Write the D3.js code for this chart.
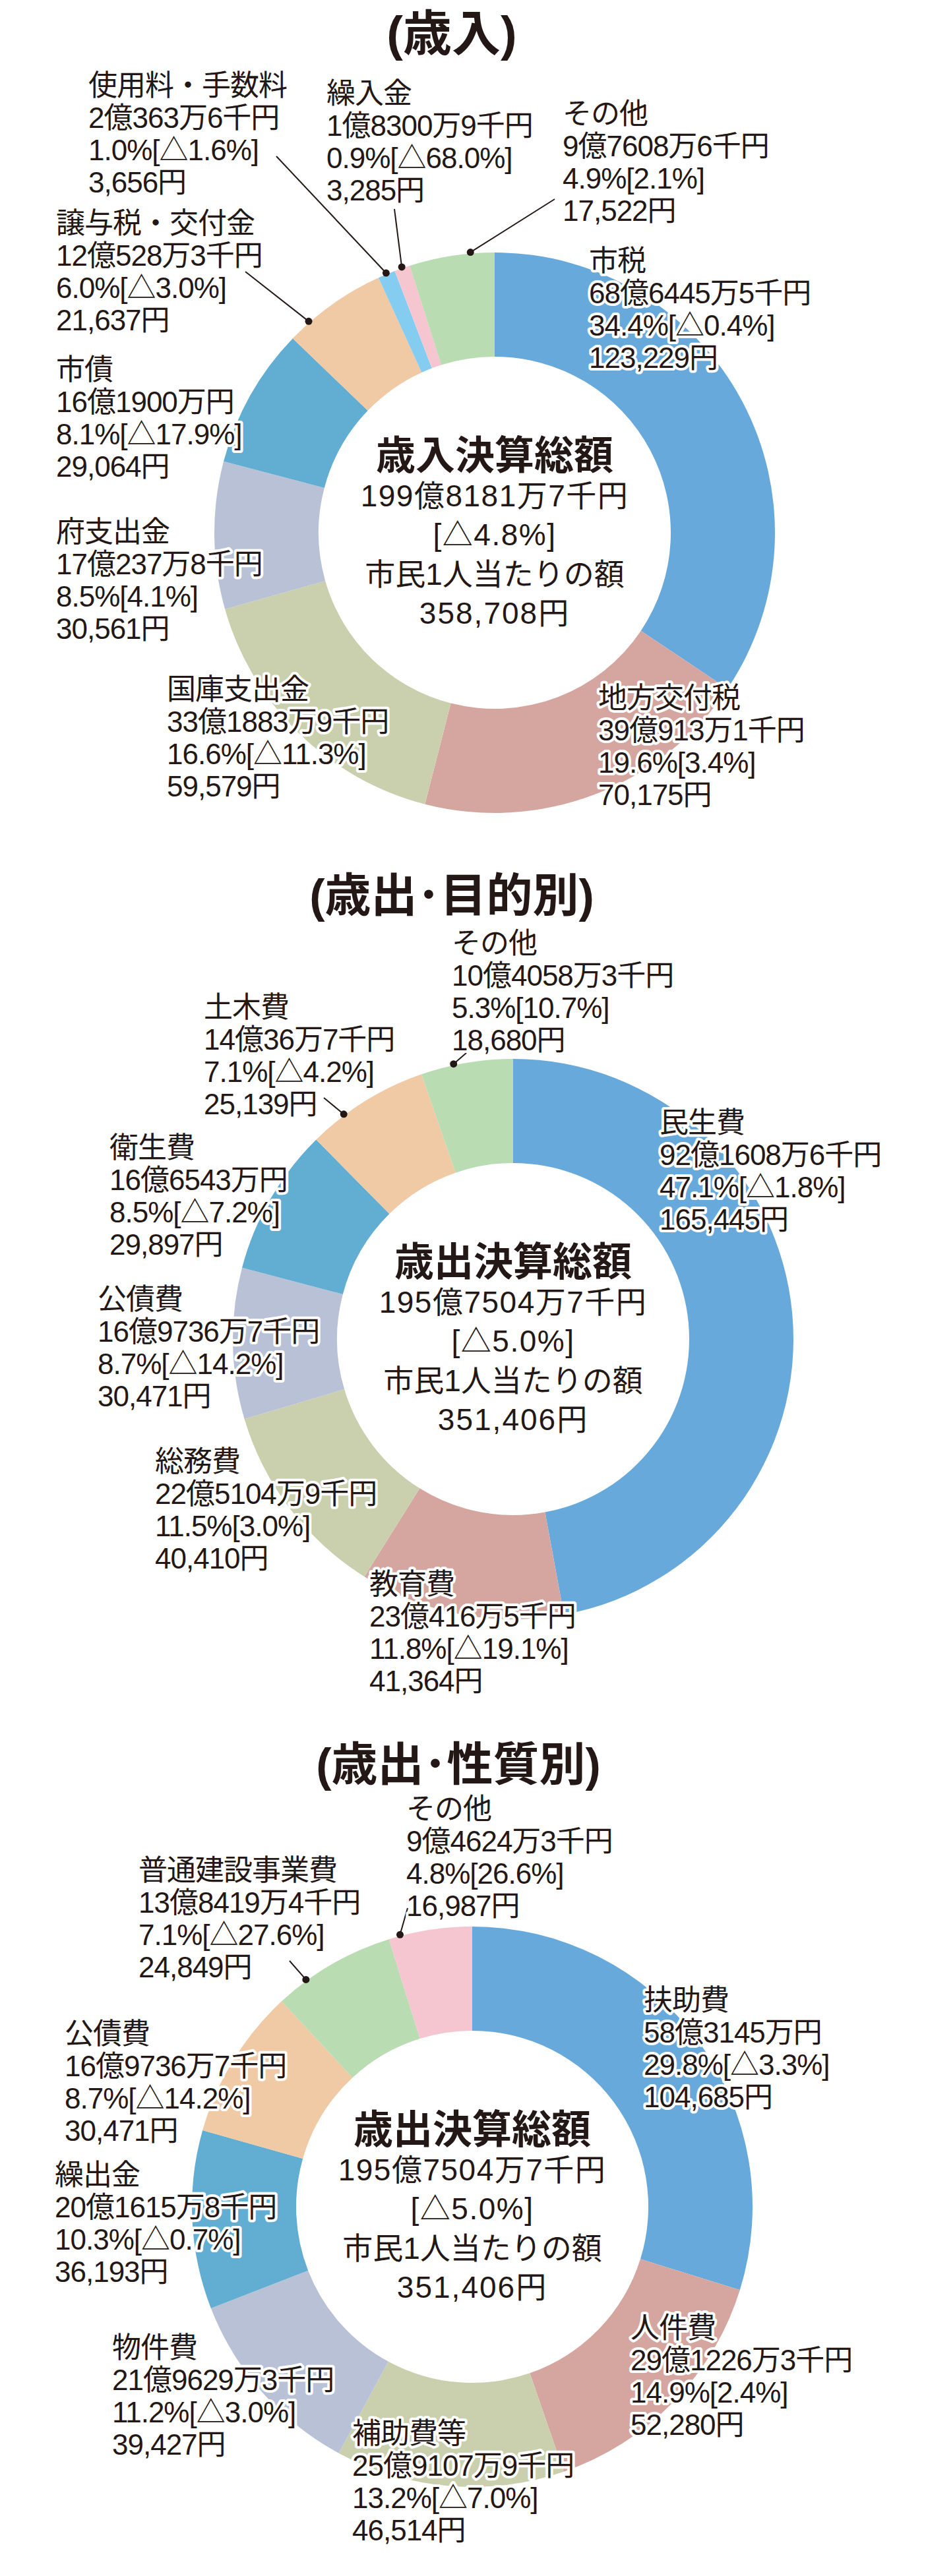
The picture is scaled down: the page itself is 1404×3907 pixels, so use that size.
<!DOCTYPE html>
<html><head><meta charset="utf-8">
<script src="https://cdn.jsdelivr.net/npm/d3@7"></script>
<style>
html,body{margin:0;padding:0;background:#fff;}
svg{display:block;}
text{font-family:"Liberation Sans","Noto Sans CJK JP",sans-serif;fill:#231815;}
</style></head><body>
<svg id="c" width="1404" height="3907"></svg>
<script>
// ---------- data ----------
const revNames = ["市税","地方交付税","国庫支出金","府支出金","市債","譲与税・交付金","使用料・手数料","繰入金","その他"];
const revShares = [34.4,19.6,16.6,8.5,8.1,6.0,1.0,0.9,4.9];
const revAmounts = ["68億6445万5千円","39億913万1千円","33億1883万9千円","17億237万8千円","16億1900万円","12億528万3千円","2億363万6千円","1億8300万9千円","9億7608万6千円"];
const revChanges = ["△0.4%","3.4%","△11.3%","4.1%","△17.9%","△3.0%","△1.6%","△68.0%","2.1%"];
const revPerCapita = ["123,229円","70,175円","59,579円","30,561円","29,064円","21,637円","3,656円","3,285円","17,522円"];
const revTotal = ["歳入決算総額","199億8181万7千円","△4.8%","358,708円"];

const purNames = ["民生費","教育費","総務費","公債費","衛生費","土木費","その他"];
const purShares = [47.1,11.8,11.5,8.7,8.5,7.1,5.3];
const purAmounts = ["92億1608万6千円","23億416万5千円","22億5104万9千円","16億9736万7千円","16億6543万円","14億36万7千円","10億4058万3千円"];
const purChanges = ["△1.8%","△19.1%","3.0%","△14.2%","△7.2%","△4.2%","10.7%"];
const purPerCapita = ["165,445円","41,364円","40,410円","30,471円","29,897円","25,139円","18,680円"];
const purTotal = ["歳出決算総額","195億7504万7千円","△5.0%","351,406円"];

const natNames = ["扶助費","人件費","補助費等","物件費","繰出金","公債費","普通建設事業費","その他"];
const natShares = [29.8,14.9,13.2,11.2,10.3,8.7,7.1,4.8];
const natAmounts = ["58億3145万円","29億1226万3千円","25億9107万9千円","21億9629万3千円","20億1615万8千円","16億9736万7千円","13億8419万4千円","9億4624万3千円"];
const natChanges = ["△3.3%","2.4%","△7.0%","△3.0%","△0.7%","△14.2%","△27.6%","26.6%"];
const natPerCapita = ["104,685円","52,280円","46,514円","39,427円","36,193円","30,471円","24,849円","16,987円"];
const natTotal = ["歳出決算総額","195億7504万7千円","△5.0%","351,406円"];

const chartTitles = ["(歳入)","(歳出･目的別)","(歳出･性質別)"];
const perCapitaCaption = "市民1人当たりの額";

// ---------- styles / layout ----------
const C = {blue:"#68a9dc", rose:"#d5a6a0", olive:"#cacfae", lav:"#b9c1d6", teal:"#62aed3",
           peach:"#efcaa4", lblue:"#84cdf1", pink:"#f5c6d0", green:"#b9dcb2"};
const revColors = [C.blue,C.rose,C.olive,C.lav,C.teal,C.peach,C.lblue,C.pink,C.green];
const purColors = [C.blue,C.rose,C.olive,C.lav,C.teal,C.peach,C.green];
const natColors = [C.blue,C.rose,C.olive,C.lav,C.teal,C.peach,C.green,C.pink];

const R_OUT = 425, R_IN = 267, LINE = 49;

const revLabelPos = [[893,411],[907,1074],[253,1061],[85,822],[85,576],[85,354],[134,145],[495,157],[853,188]];
const purLabelPos = [[1000,1718],[560,2418],[235,2232],[148,1986],[166,1756],[309,1543],[685,1446]];
const natLabelPos = [[976,3049],[956,3546],[534,3706],[170,3576],[83,3314],[98,3100],[210,2852],[616,2759]];

// leader: [slice index, start x, start y, fraction within slice]
const revLeaders = [[5,372,412,0.22],[6,419,237,0.5],[7,598,317,0.5],[8,841,302,0.72]];
const purLeaders = [[5,491,1665,0.3],[6,707,1597,0.36]];
const natLeaders = [[6,439,2974,0.26],[7,618,2894,0.14]];

const charts = [
  {title:chartTitles[0], titleX:685, titleY:77, titleSize:74, center:[750,808], names:revNames, shares:revShares, amounts:revAmounts,
   changes:revChanges, perCap:revPerCapita, total:revTotal, colors:revColors, pos:revLabelPos, leaders:revLeaders},
  {title:chartTitles[1], titleX:685, titleY:1383, titleSize:70, center:[778,2031], names:purNames, shares:purShares, amounts:purAmounts,
   changes:purChanges, perCap:purPerCapita, total:purTotal, colors:purColors, pos:purLabelPos, leaders:purLeaders},
  {title:chartTitles[2], titleX:695, titleY:2701, titleSize:70, center:[716,3347], names:natNames, shares:natShares, amounts:natAmounts,
   changes:natChanges, perCap:natPerCapita, total:natTotal, colors:natColors, pos:natLabelPos, leaders:natLeaders}
];

const svg = d3.select("#c");
svg.append("rect").attr("width",1404).attr("height",3907).attr("fill","#fff");

const pie = d3.pie().sort(null).value(d=>d);
const arc = d3.arc().innerRadius(R_IN).outerRadius(R_OUT);

charts.forEach(ch => {
  // title
  svg.append("text").attr("x",ch.titleX).attr("y",ch.titleY).attr("text-anchor","middle")
    .attr("font-size",ch.titleSize).attr("font-weight",700).attr("font-family","Noto Sans CJK JP")
    .text(ch.title);

  const arcs = pie(ch.shares);
  const g = svg.append("g").attr("transform",`translate(${ch.center[0]},${ch.center[1]})`);
  g.selectAll("path").data(arcs).enter().append("path")
    .attr("d",arc).attr("fill",(d,i)=>ch.colors[i]);

  // center text
  const ct = g.append("g");
  ct.append("text").attr("y",-96).attr("text-anchor","middle").attr("font-size",60)
    .attr("font-weight",700).attr("font-family","Noto Sans CJK JP").text(ch.total[0]);
  const cl = [[ch.total[1],-40,1.5],["["+ch.total[2]+"]",19,1.5],[perCapitaCaption,79,0],[ch.total[3],138,2]];
  cl.forEach(([t,y,ls]) => {
    ct.append("text").attr("y",y).attr("text-anchor","middle").attr("font-size",46)
      .attr("letter-spacing",ls).text(t);
  });

  // leaders
  ch.leaders.forEach(([idx,sx,sy,frac]) => {
    const a = arcs[idx];
    const ang = a.startAngle + (a.endAngle - a.startAngle)*frac;
    const r = R_OUT + 2;
    const dx = ch.center[0] + r*Math.sin(ang), dy = ch.center[1] - r*Math.cos(ang);
    svg.append("line").attr("x1",sx).attr("y1",sy).attr("x2",dx).attr("y2",dy)
      .attr("stroke","#231815").attr("stroke-width",2);
    svg.append("circle").attr("cx",dx).attr("cy",dy).attr("r",5.5).attr("fill","#231815");
  });

  // labels
  ch.names.forEach((n,i) => {
    const [x,y] = ch.pos[i];
    const lines = [n, ch.amounts[i], ch.shares[i].toFixed(1)+"%["+ch.changes[i]+"]", ch.perCap[i]];
    const t = svg.append("text").attr("x",x).attr("y",y).attr("font-size",44).attr("letter-spacing",-1)
      .attr("stroke","#fff").attr("stroke-width",8).attr("stroke-linejoin","round")
      .attr("paint-order","stroke");
    lines.forEach((l,k) => t.append("tspan").attr("x",x).attr("y",y+k*LINE).text(l));
  });
});
</script>
</body></html>
